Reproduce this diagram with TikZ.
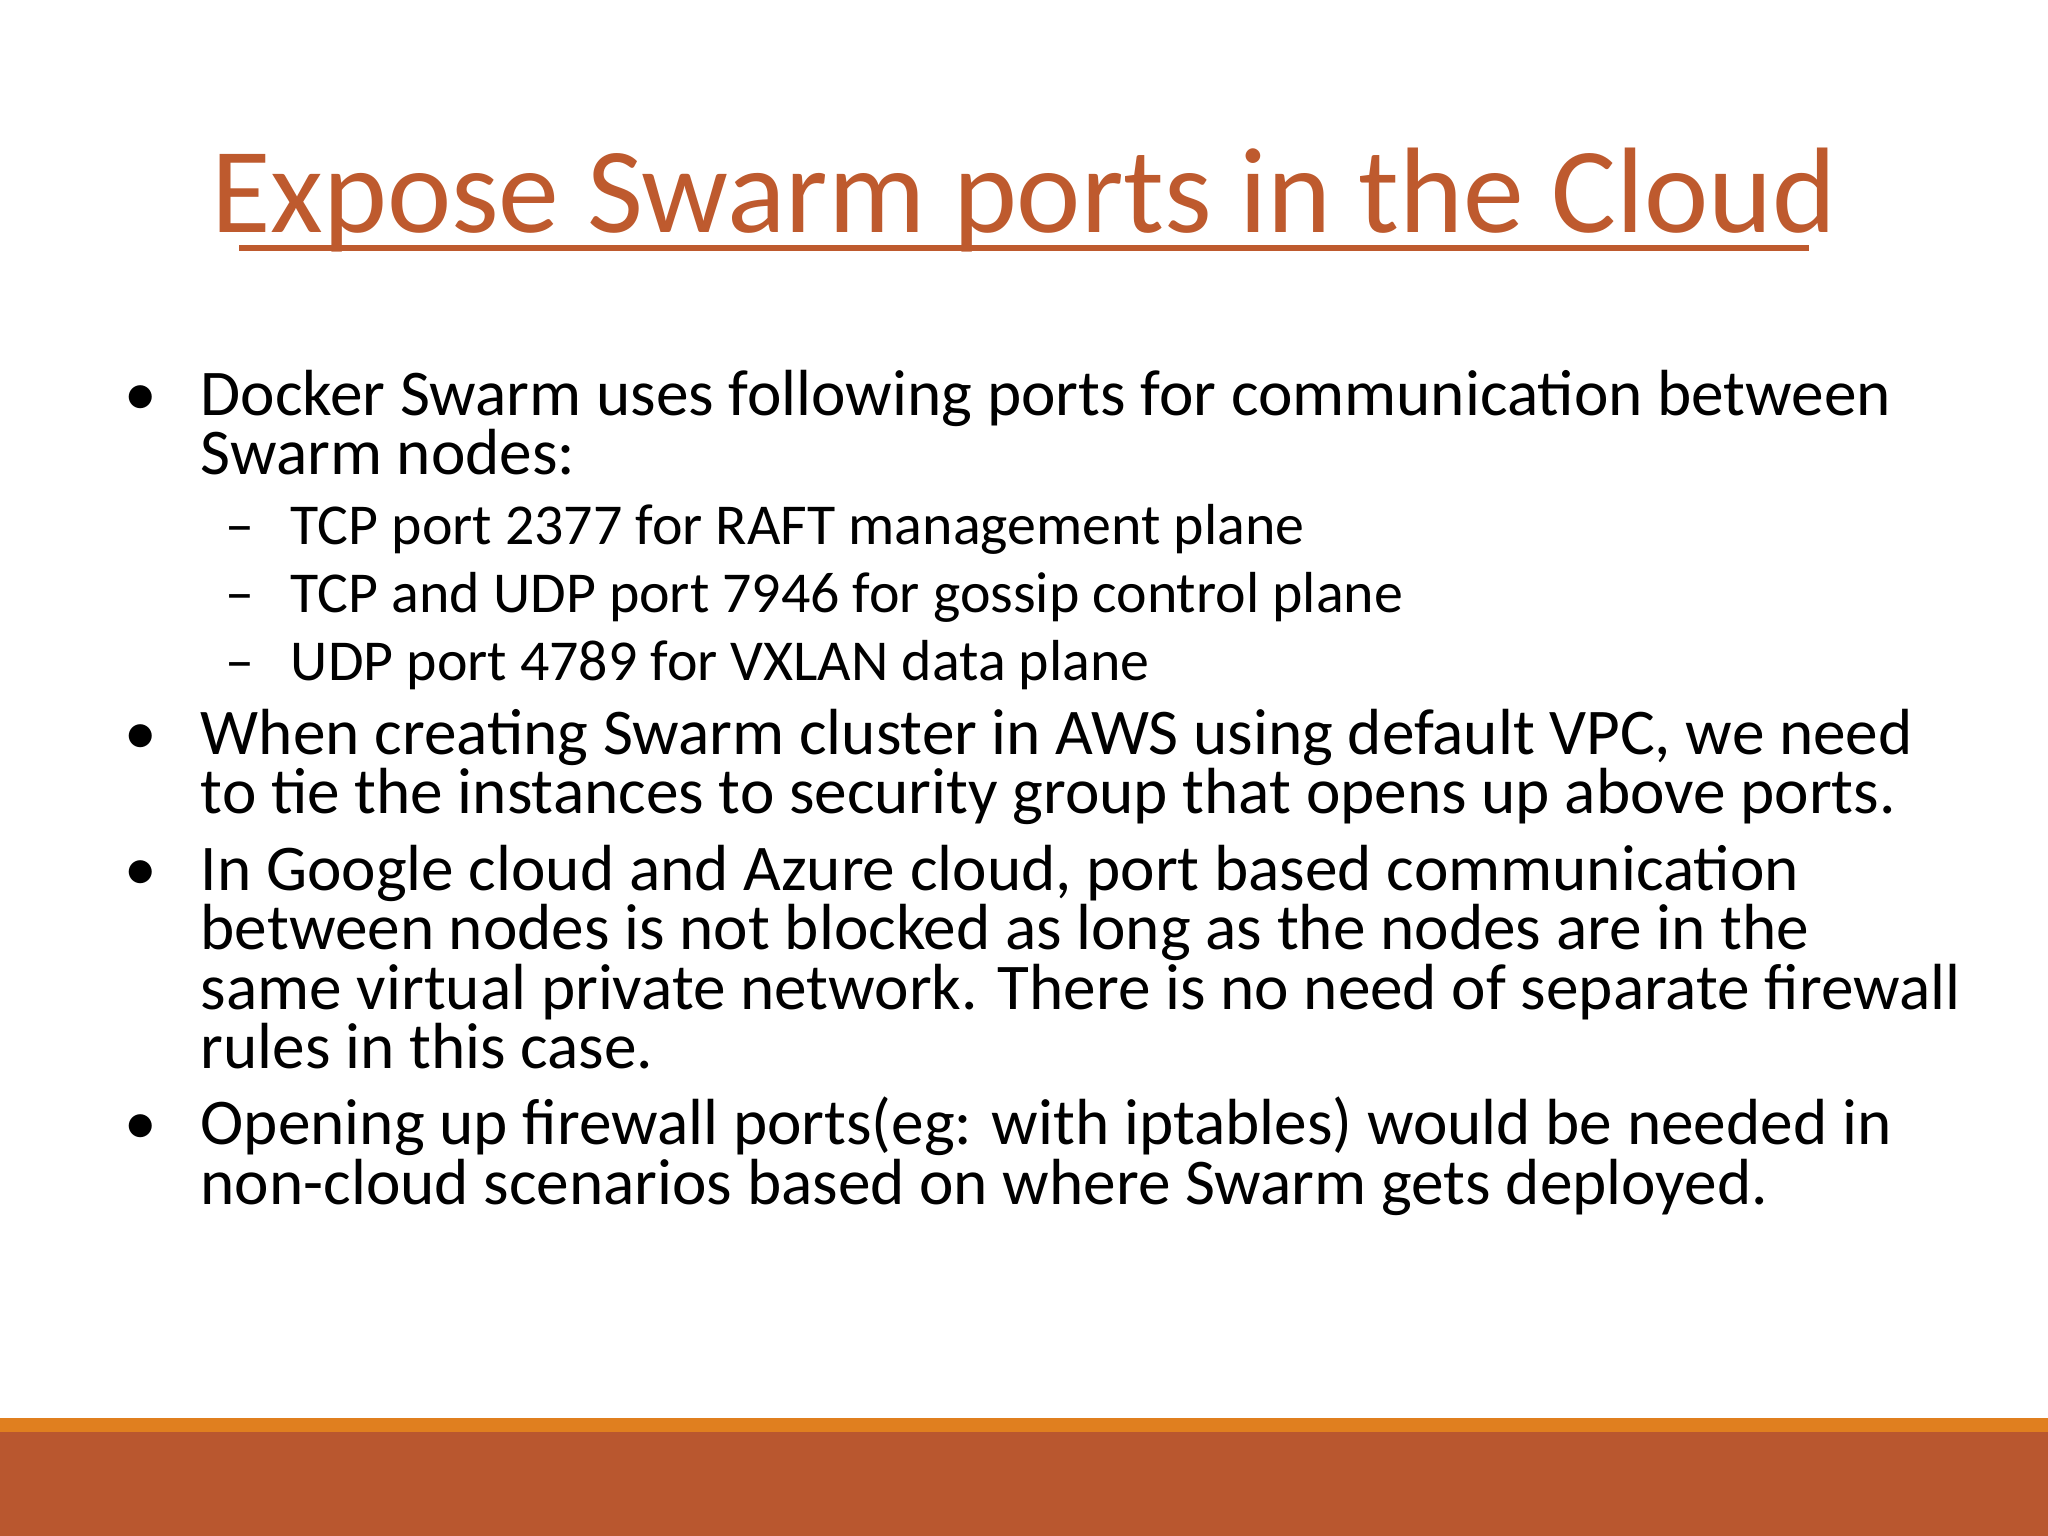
\documentclass[tikz,border=0pt]{standalone}
\usepackage{fontspec}
\setmainfont{Carlito}
\definecolor{titlec}{HTML}{BE5A2E}
\definecolor{barc}{HTML}{B9572F}
\definecolor{linec}{HTML}{E07F1F}
\tikzset{
 body/.style={anchor=base west,inner sep=0pt,font=\fontsize{14.2pt}{16pt}\selectfont},
 sub/.style={anchor=base west,inner sep=0pt,font=\fontsize{12.6pt}{15pt}\selectfont},
}
\begin{document}
\begin{tikzpicture}[x=0.01cm,y=-0.01cm]
\useasboundingbox (0,0) rectangle (1568,1176);
\fill[white] (0,0) rectangle (1568,1176);
\fill[linec] (0,1086) rectangle (1568,1096);
\fill[barc] (0,1096) rectangle (1568,1176);
\node[anchor=base,inner sep=0pt,text=titlec,font=\fontsize{26.5pt}{30pt}\selectfont] (title) at (784,178) {Expose Swarm ports in the Cloud};
\draw[titlec,line width=1.2pt] (183,190) -- (1385,190);
\foreach \y in {318,578,682,876} \node[body] at (95,\y) {•};
\foreach \y in {417,469,521} \node[sub] at (172,\y) {–};
\node[body] (a1) at (153,318) {Docker Swarm uses following ports for communication between};
\node[body] (a2) at (153,363) {Swarm nodes:};
\node[sub] (s1) at (222,417) {TCP port 2377 for RAFT management plane};
\node[sub] (s2) at (222,469) {TCP and UDP port 7946 for gossip control plane};
\node[sub] (s3) at (222,521) {UDP port 4789 for VXLAN data plane};
\node[body] (b1) at (153,578) {When creating Swarm cluster in AWS using default VPC, we need};
\node[body] (b2) at (153,623) {to tie the instances to security group that opens up above ports.};
\node[body] (c1) at (153,682) {In Google cloud and Azure cloud, port based communication};
\node[body] (c2) at (153,727) {between nodes is not blocked as long as the nodes are in the};
\node[body] (c3) at (153,773) {same virtual private network. There is no need of separate firewall};
\node[body] (c4) at (153,818) {rules in this case.};
\node[body] (d1) at (153,876) {Opening up firewall ports(eg: with iptables) would be needed in};
\node[body] (d2) at (153,922) {non-cloud scenarios based on where Swarm gets deployed.};
\end{tikzpicture}
\end{document}
